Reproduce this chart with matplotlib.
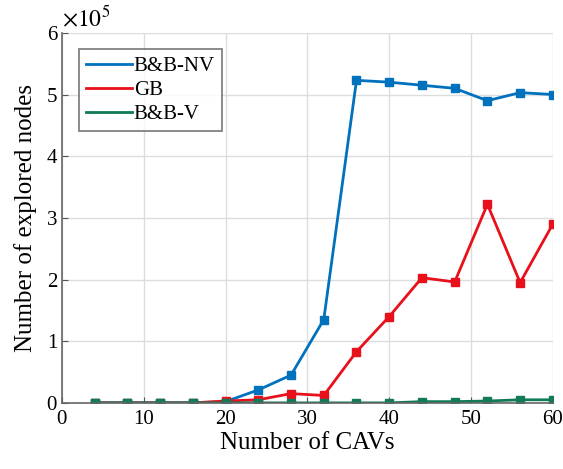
import matplotlib
matplotlib.use("Agg")
import matplotlib.pyplot as plt
import numpy as np

plt.rcParams['font.family'] = ['Liberation Serif', 'DejaVu Serif']
plt.rcParams['mathtext.fontset'] = 'stix'

cavs = [4, 8, 12, 16, 20, 24, 28, 32, 36, 40, 44, 48, 52, 56, 60]
bbnv = [0.0, 0.0, 0.0, 0.0, 0.02, 0.21, 0.45, 1.35, 5.23, 5.2, 5.15, 5.1, 4.9, 5.03, 5.0]
gb = [0.0, 0.0, 0.0, 0.0, 0.03, 0.05, 0.15, 0.12, 0.83, 1.4, 2.03, 1.96, 3.22, 1.95, 2.9]
bbv = [0.0, 0.0, 0.0, 0.0, 0.0, 0.0, 0.0, 0.0, 0.0, 0.0, 0.02, 0.02, 0.03, 0.05, 0.05]
xticks = [0, 10, 20, 30, 40, 50, 60]
yticks = [0, 1, 2, 3, 4, 5, 6]

fig = plt.figure(figsize=(5.63, 4.69), dpi=100)
ax = fig.add_axes([0.110, 0.141, 0.872, 0.789])

ax.plot(cavs, bbnv, color='#0072BD', lw=2, marker='s', ms=6, label='B&B-NV')
ax.plot(cavs, gb, color='#E8111B', lw=2, marker='s', ms=6, label='GB')
ax.plot(cavs, bbv, color='#117A58', lw=2, marker='s', ms=6, label='B&B-V')

ax.set_xlim(0, 60)
ax.set_ylim(0, 6)
ax.set_xticks(xticks)
ax.set_yticks(yticks)
ax.tick_params(labelsize=15, direction='in', length=4, color='#555555')
ax.tick_params(axis='x', pad=5)
ax.grid(True, color='#DDDDDD', lw=1)
ax.set_axisbelow(True)
for s in ['top', 'right']:
    ax.spines[s].set_visible(False)
for s in ['left', 'bottom']:
    ax.spines[s].set_color('#666666')
    ax.spines[s].set_linewidth(1.2)

ax.set_xlabel('Number of CAVs', fontsize=18, labelpad=2)
ax.set_ylabel('Number of explored nodes', fontsize=18, labelpad=7)
ax.text(0.0, 1.005, r'$\times10^5$', transform=ax.transAxes, fontsize=17,
        ha='left', va='bottom')

leg = ax.legend(loc='upper left', fontsize=15, frameon=True, fancybox=False,
                edgecolor='#555555', handlelength=2.2, handletextpad=0.1,
                borderaxespad=0.8, labelspacing=0.2, borderpad=0.35)
leg.get_frame().set_linewidth(1.2)
for h in leg.legend_handles:
    h.set_marker('')

fig.savefig('out.png', dpi=100)
